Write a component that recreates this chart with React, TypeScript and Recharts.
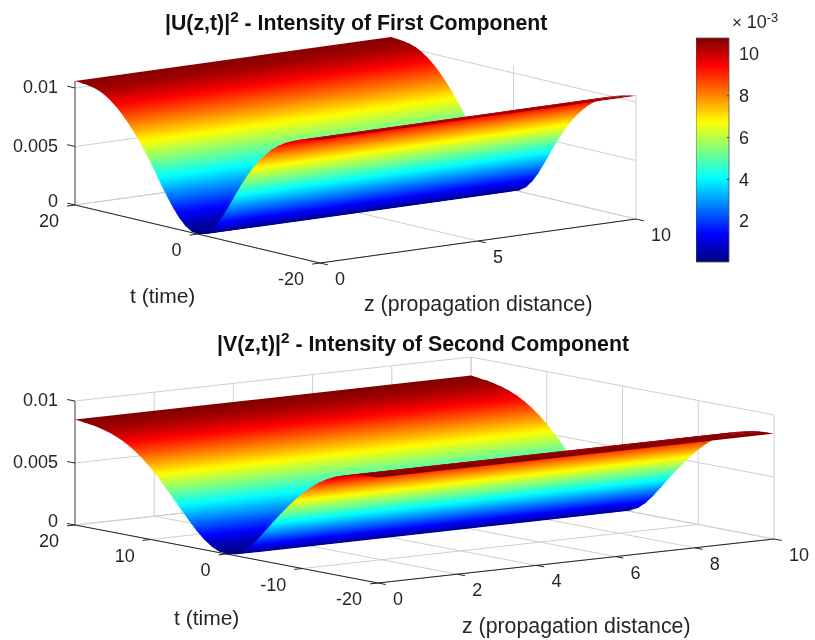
import { Bar, BarChart, Scatter, ScatterChart, XAxis, YAxis } from "recharts";

const T_VALUES = [
  20, 19, 18, 17, 16, 15, 14, 13, 12, 11, 10, 9, 8, 7, 6, 5, 4, 3, 2, 1, 0, -1,
  -2, -3, -4, -5, -6, -7, -8, -9, -10, -11, -12, -13, -14, -15, -16, -17, -18,
  -19, -20,
];
const U_INTENSITY = [
  0.0106, 0.01056, 0.01051, 0.01041, 0.01023, 0.00995, 0.00957, 0.00909,
  0.00852, 0.00787, 0.00714, 0.00634, 0.00546, 0.00451, 0.00354, 0.0026,
  0.00174, 0.00101, 0.00045, 0.00011, 0, 0.00012, 0.00048, 0.00108, 0.0019,
  0.00288, 0.00392, 0.00494, 0.00588, 0.00672, 0.00746, 0.0081, 0.00864,
  0.00908, 0.00944, 0.00973, 0.00997, 0.01016, 0.01031, 0.01043, 0.01053,
];
const V_INTENSITY = [
  0.0085, 0.00843, 0.00835, 0.00824, 0.00809, 0.00788, 0.00761, 0.00727, 0.00685,
  0.00635, 0.00577, 0.00511, 0.00439, 0.00364, 0.00289, 0.00215, 0.00145,
  0.00085, 0.00038, 0.0001, 0, 0.0001, 0.0004, 0.0009, 0.00158, 0.00236, 0.00318,
  0.00396, 0.0047, 0.0054, 0.00604, 0.0066, 0.00708, 0.00748, 0.0078, 0.00804,
  0.00822, 0.00835, 0.00844, 0.00848, 0.0085,
];

const Z_TICKS_TOP = [0, 5, 10];
const T_TICKS_TOP = [20, 0, -20];
const Z_TICKS_BOTTOM = [0, 2, 4, 6, 8, 10];
const T_TICKS_BOTTOM = [20, 10, 0, -10, -20];
const V_TICKS = [0, 0.005, 0.01];
const V_TICK_LABELS = ["0", "0.005", "0.01"];
const COLORBAR_TICKS = [2, 4, 6, 8, 10];
const COLORBAR_RANGE = [0.04, 10.77];

const FONT = '"Liberation Sans", Arial, sans-serif';
const TEXT = "#262626";
const GRID = "#cfcfcf";

type Panel = {
  left: [number, number];
  dz: [number, number];
  dt: [number, number];
  vScale: number;
  vMax: number;
  boxTop: number;
  zTicks: number[];
  tTicks: number[];
  profile: number[];
};

const TOP_PANEL: Panel = {
  left: [75, 205],
  dz: [316, -44],
  dt: [245, 58],
  vScale: 11700,
  vMax: 0.0107,
  boxTop: 0.0106,
  zTicks: Z_TICKS_TOP,
  tTicks: T_TICKS_TOP,
  profile: U_INTENSITY,
};

const BOTTOM_PANEL: Panel = {
  left: [75, 525],
  dz: [396, -44],
  dt: [303, 58],
  vScale: 12400,
  vMax: 0.0085,
  boxTop: 0.01,
  zTicks: Z_TICKS_BOTTOM,
  tTicks: T_TICKS_BOTTOM,
  profile: V_INTENSITY,
};

/** Orthographic projection of (z, t, value) on to the page */
function project(p: Panel, z: number, t: number, v: number) {
  const a = z / 10;
  const b = (20 - t) / 40;
  return {
    x: p.left[0] + a * p.dz[0] + b * p.dt[0],
    y: p.left[1] + a * p.dz[1] + b * p.dt[1] - v * p.vScale,
  };
}

function jet(c: number): string {
  const ch = (d: number) =>
    Math.round(255 * Math.max(0, Math.min(1, 1.5 - Math.abs(4 * c - d))));
  return `rgb(${ch(3)},${ch(2)},${ch(1)})`;
}

const NoMark = () => null;

let gradientId = 0;

/** Builds the polygon for one strip of surface, shaded from c0 to c1 */
function stripShape(c0: number, c1: number, dz: [number, number], last: boolean) {
  return (props: any) => {
    const pts = props.points as { x: number; y: number }[];
    const len = Math.hypot(dz[0], dz[1]);
    const n = [-dz[1] / len, dz[0] / len];
    const d = (pts[3].x - pts[0].x) * n[0] + (pts[3].y - pts[0].y) * n[1];
    const id = `strip-${gradientId++}`;
    const stops = [0, 0.25, 0.5, 0.75, 1];
    // run slightly under the next strip, along the profile, so no seam shows
    const k = last ? 0 : Math.min(0.4, 0.8 / Math.max(Math.abs(d), 0.01));
    const poly = [
      pts[0],
      pts[1],
      { x: pts[2].x + (pts[2].x - pts[1].x) * k, y: pts[2].y + (pts[2].y - pts[1].y) * k },
      { x: pts[3].x + (pts[3].x - pts[0].x) * k, y: pts[3].y + (pts[3].y - pts[0].y) * k },
    ];
    return (
      <g>
        <defs>
          <linearGradient
            id={id}
            gradientUnits="userSpaceOnUse"
            x1={pts[0].x}
            y1={pts[0].y}
            x2={pts[0].x + n[0] * d}
            y2={pts[0].y + n[1] * d}
          >
            {stops.map((s) => (
              <stop key={s} offset={s} stopColor={jet(c0 + (c1 - c0) * s)} />
            ))}
          </linearGradient>
        </defs>
        <polygon
          points={poly.map((q) => `${q.x},${q.y}`).join(" ")}
          fill={`url(#${id})`}
        />
      </g>
    );
  };
}

function segment(
  key: string,
  a: { x: number; y: number },
  b: { x: number; y: number },
  stroke: string,
  width = 1,
) {
  return (
    <Scatter
      key={key}
      data={[a, b]}
      shape={NoMark}
      line={{ stroke, strokeWidth: width }}
      isAnimationActive={false}
    />
  );
}

function gridLines(p: Panel, name: string) {
  const out = [];
  for (const z of p.zTicks) {
    out.push(segment(`${name}-fz${z}`, project(p, z, 20, 0), project(p, z, -20, 0), GRID));
    out.push(segment(`${name}-wz${z}`, project(p, z, 20, 0), project(p, z, 20, p.boxTop), GRID));
  }
  for (const t of p.tTicks) {
    out.push(segment(`${name}-ft${t}`, project(p, 0, t, 0), project(p, 10, t, 0), GRID));
    out.push(segment(`${name}-wt${t}`, project(p, 10, t, 0), project(p, 10, t, p.boxTop), GRID));
  }
  for (const v of V_TICKS) {
    out.push(segment(`${name}-lv${v}`, project(p, 0, 20, v), project(p, 10, 20, v), GRID));
    out.push(segment(`${name}-rv${v}`, project(p, 10, 20, v), project(p, 10, -20, v), GRID));
  }
  return out;
}

function axisLines(p: Panel, name: string) {
  const out = [
    segment(`${name}-at`, project(p, 0, 20, 0), project(p, 0, -20, 0), TEXT, 1),
    segment(`${name}-az`, project(p, 0, -20, 0), project(p, 10, -20, 0), TEXT, 1),
    segment(`${name}-av`, project(p, 0, 20, 0), project(p, 0, 20, p.boxTop), "#555", 1),
  ];
  const tickLen = 8;
  const lenZ = Math.hypot(p.dz[0], p.dz[1]);
  const lenT = Math.hypot(p.dt[0], p.dt[1]);
  for (const t of p.tTicks) {
    const a = project(p, 0, t, 0);
    const b = { x: a.x - (p.dz[0] / lenZ) * tickLen, y: a.y - (p.dz[1] / lenZ) * tickLen };
    out.push(segment(`${name}-tt${t}`, a, b, TEXT));
  }
  for (const z of p.zTicks) {
    const a = project(p, z, -20, 0);
    const b = { x: a.x + (p.dt[0] / lenT) * tickLen, y: a.y + (p.dt[1] / lenT) * tickLen };
    out.push(segment(`${name}-tz${z}`, a, b, TEXT));
  }
  V_TICKS.forEach((v) => {
    const a = project(p, 0, 20, v);
    const b = { x: a.x - (p.dt[0] / lenT) * tickLen, y: a.y - (p.dt[1] / lenT) * tickLen };
    out.push(segment(`${name}-tv${v}`, a, b, TEXT));
  });
  return out;
}

function surface(p: Panel, name: string) {
  const out = [];
  for (let i = 0; i < T_VALUES.length - 1; i++) {
    const t0 = T_VALUES[i];
    const t1 = T_VALUES[i + 1];
    const v0 = p.profile[i];
    const v1 = p.profile[i + 1];
    out.push(
      <Scatter
        key={`${name}-s${i}`}
        data={[
          project(p, 0, t0, v0),
          project(p, 10, t0, v0),
          project(p, 10, t1, v1),
          project(p, 0, t1, v1),
        ]}
        shape={NoMark}
        line={stripShape(v0 / p.vMax, v1 / p.vMax, p.dz, i === T_VALUES.length - 2)}
        isAnimationActive={false}
      />,
    );
  }
  return out;
}

const LabelMark = (props: any) => {
  const { cx, cy, payload } = props;
  return (
    <text
      x={cx}
      y={cy}
      textAnchor={payload.anchor}
      dominantBaseline="central"
      fontFamily={FONT}
      fontSize={18}
      fill={TEXT}
    >
      {payload.label}
    </text>
  );
};

function tickLabels(p: Panel, name: string) {
  const data = [
    ...p.tTicks.map((t) => {
      const a = project(p, 0, t, 0);
      return { x: a.x - 16, y: a.y + 16, label: String(t), anchor: "end" };
    }),
    ...p.zTicks.map((z) => {
      const a = project(p, z, -20, 0);
      return { x: a.x + 15, y: a.y + 16, label: String(z), anchor: "start" };
    }),
    ...V_TICKS.map((v, i) => {
      const a = project(p, 0, 20, v);
      return { x: a.x - 17, y: a.y - (v === 0 ? 4 : 1), label: V_TICK_LABELS[i], anchor: "end" };
    }),
  ];
  return (
    <Scatter
      key={`${name}-labels`}
      data={data}
      shape={LabelMark}
      isAnimationActive={false}
    />
  );
}

const COLORBAR_DATA = [{ name: "c", range: COLORBAR_RANGE }];
const JET_STOPS = [0, 0.125, 0.375, 0.625, 0.875, 1];

function Colorbar() {
  return (
    <div style={{ position: "absolute", left: 696, top: 0 }}>
      <BarChart
        width={119}
        height={280}
        data={COLORBAR_DATA}
        margin={{ top: 38, right: 0, bottom: 18, left: 0 }}
        barCategoryGap={0}
      >
        <defs>
          <linearGradient id="jetbar" x1="0" y1="1" x2="0" y2="0">
            {JET_STOPS.map((s) => (
              <stop key={s} offset={s} stopColor={jet(s)} />
            ))}
          </linearGradient>
        </defs>
        <XAxis dataKey="name" hide />
        <YAxis
          orientation="right"
          type="number"
          width={86}
          domain={COLORBAR_RANGE}
          ticks={COLORBAR_TICKS}
          axisLine={false}
          tickSize={-2}
          tickMargin={12}
          tickLine={{ stroke: "#333" }}
          tick={{ fontFamily: FONT, fontSize: 18, fill: TEXT }}
        />
        <Bar
          dataKey="range"
          fill="url(#jetbar)"
          stroke="#555"
          strokeWidth={0.8}
          isAnimationActive={false}
        />
      </BarChart>
    </div>
  );
}

function TextAt({ left, top, size, bold, children }: any) {
  return (
    <div
      style={{
        position: "absolute",
        left,
        top,
        fontFamily: FONT,
        fontSize: size,
        fontWeight: bold ? 700 : 400,
        color: bold ? "#111" : TEXT,
        whiteSpace: "nowrap",
        lineHeight: 1,
      }}
    >
      {children}
    </div>
  );
}

const sup = { fontSize: "0.72em", position: "relative", top: "-0.5em" } as const;

export default function App() {
  gradientId = 0;
  return (
    <div
      style={{
        position: "absolute",
        left: 0,
        top: 0,
        width: 815,
        height: 640,
        background: "#fff",
        filter: "blur(0.4px)",
      }}
    >
      <div style={{ position: "absolute", left: 0, top: 0 }}>
        <ScatterChart width={815} height={640} margin={{ top: 0, right: 0, bottom: 0, left: 0 }}>
          <XAxis type="number" dataKey="x" domain={[0, 815]} hide />
          <YAxis type="number" dataKey="y" domain={[0, 640]} reversed hide />
          {gridLines(TOP_PANEL, "u")}
          {axisLines(TOP_PANEL, "u")}
          {surface(TOP_PANEL, "u")}
          {tickLabels(TOP_PANEL, "u")}
          {gridLines(BOTTOM_PANEL, "v")}
          {axisLines(BOTTOM_PANEL, "v")}
          {surface(BOTTOM_PANEL, "v")}
          {tickLabels(BOTTOM_PANEL, "v")}
        </ScatterChart>
      </div>
      <Colorbar />
      <TextAt left={165} top={13} size={21.3} bold>
        |U(z,t)|<span style={sup}>2</span> - Intensity of First Component
      </TextAt>
      <TextAt left={217} top={334} size={21.3} bold>
        |V(z,t)|<span style={sup}>2</span> - Intensity of Second Component
      </TextAt>
      <TextAt left={130} top={285} size={21}>t (time)</TextAt>
      <TextAt left={364} top={294} size={21.3}>z (propagation distance)</TextAt>
      <TextAt left={174} top={607} size={21}>t (time)</TextAt>
      <TextAt left={462} top={616} size={21.3}>z (propagation distance)</TextAt>
      <TextAt left={732} top={13} size={18}>
        <span style={{ fontSize: 17 }}>× </span>10<span style={sup}>-3</span>
      </TextAt>
    </div>
  );
}
